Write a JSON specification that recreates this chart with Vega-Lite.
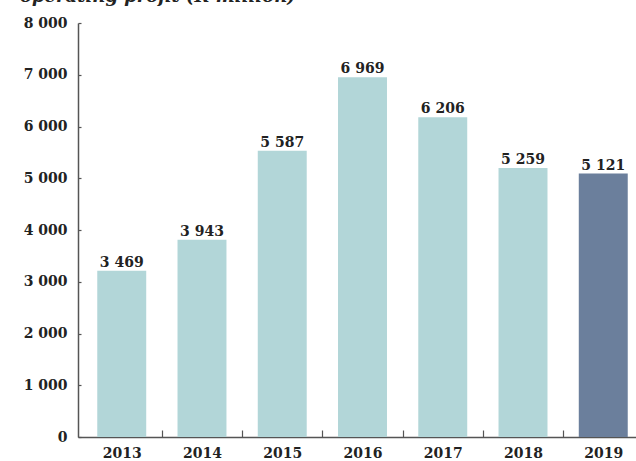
{
  "$schema": "https://vega.github.io/schema/vega-lite/v6.json",
  "autosize": "none",
  "padding": {"left": 78, "top": 23, "right": 0, "bottom": 24},
  "width": 569,
  "height": 414,
  "title": {
    "text": "operating profit (R million)",
    "anchor": "start",
    "frame": "group",
    "font": "DejaVu Serif",
    "fontSize": 18,
    "fontWeight": "bold",
    "fontStyle": "italic",
    "color": "#222222",
    "baseline": "alphabetic",
    "dx": -58,
    "offset": 0,
    "dy": 4
  },
  "config": {
    "locale": {"number": {"decimal": ".", "thousands": " ", "grouping": [3], "currency": ["", ""]}},
    "view": {"stroke": null},
    "axis": {
      "labelFont": "DejaVu Serif",
      "labelFontWeight": "bold",
      "labelFontSize": 14,
      "labelColor": "#222222",
      "domainColor": "#555555",
      "tickColor": "#555555",
      "grid": false,
      "title": null
    }
  },
  "data": {
    "values": [
      {"year": "2013", "value": 3469, "drawn": 3211, "highlight": "no"},
      {"year": "2014", "value": 3943, "drawn": 3810, "highlight": "no"},
      {"year": "2015", "value": 5587, "drawn": 5532, "highlight": "no"},
      {"year": "2016", "value": 6969, "drawn": 6950, "highlight": "no"},
      {"year": "2017", "value": 6206, "drawn": 6180, "highlight": "no"},
      {"year": "2018", "value": 5259, "drawn": 5200, "highlight": "no"},
      {"year": "2019", "value": 5121, "drawn": 5090, "highlight": "yes"}
    ]
  },
  "encoding": {
    "x": {
      "field": "year",
      "type": "ordinal",
      "scale": {"paddingInner": 0, "paddingOuter": 0.045},
      "axis": {
        "labelAngle": 0,
        "domainWidth": 1.5,
        "tickSize": -7,
        "tickWidth": 1.2,
        "tickOffset": 40,
        "labelOffset": -40,
        "labelPadding": 16
      }
    }
  },
  "layer": [
    {
      "mark": {"type": "bar", "width": {"band": 0.61}},
      "encoding": {
        "y": {
          "field": "drawn",
          "type": "quantitative",
          "scale": {"domain": [0, 8000], "nice": false},
          "axis": {
            "values": [0, 1000, 2000, 3000, 4000, 5000, 6000, 7000, 8000],
            "format": ",.0f",
            "tickSize": -3,
            "tickWidth": 1.2,
            "domainWidth": 1.5,
            "labelPadding": 14
          }
        },
        "color": {
          "field": "highlight",
          "type": "nominal",
          "scale": {"domain": ["no", "yes"], "range": ["#b2d6d8", "#6b7f9c"]},
          "legend": null
        }
      }
    },
    {
      "mark": {
        "type": "text",
        "baseline": "alphabetic",
        "dy": -4,
        "font": "DejaVu Serif",
        "fontWeight": "bold",
        "fontSize": 14,
        "color": "#222222"
      },
      "encoding": {
        "y": {"field": "drawn", "type": "quantitative"},
        "text": {"field": "value", "type": "quantitative", "format": ","}
      }
    }
  ]
}
